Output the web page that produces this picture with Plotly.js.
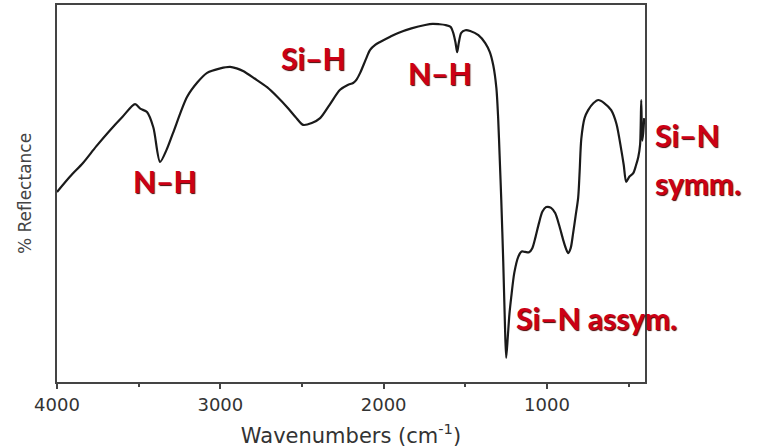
<!DOCTYPE html>
<html>
<head>
<meta charset="utf-8">
<script src="https://cdn.plot.ly/plotly-3.0.1.min.js"></script>
<style>html,body{margin:0;padding:0;background:#fff;}#chart{width:758px;height:448px;}</style>
</head>
<body>
<div id="chart"></div>
<script>
// Wavenumber (cm^-1) and % reflectance (arbitrary units)
const wavenumbers = [4000, 3920, 3841, 3760, 3675, 3600, 3522, 3490, 3449, 3410, 3369, 3330, 3290, 3204, 3140, 3081, 3000, 2940, 2900, 2861, 2790, 2714, 2650, 2591, 2540, 2493, 2440, 2389, 2330, 2267, 2220, 2187, 2165, 2144, 2110, 2083, 2050, 2022, 1960, 1911, 1830, 1746, 1700, 1660, 1623, 1590, 1574, 1560, 1550, 1540, 1525, 1500, 1470, 1420, 1378, 1350, 1329, 1310, 1299, 1290, 1280, 1268, 1258, 1250, 1240, 1230, 1219, 1200, 1176, 1155, 1134, 1110, 1090, 1070, 1050, 1028, 1005, 975, 950, 925, 901, 885, 870, 855, 840, 825, 809, 800, 790, 770, 748, 715, 686, 650, 607, 575, 545, 530, 515, 495, 472, 455, 441, 430, 423, 417, 411, 405];
const reflectance = [50.4, 54.5, 58.1, 62.5, 66.8, 70.3, 73.7, 72.5, 71.6, 67.5, 58.4, 61.5, 66.0, 75.6, 79.5, 82.0, 83.2, 83.6, 83.2, 82.5, 80.5, 78.2, 75.6, 72.9, 70.3, 68.2, 68.7, 70.0, 73.6, 77.5, 78.8, 79.3, 80.3, 82.0, 85.5, 88.1, 89.5, 90.2, 91.6, 92.6, 93.8, 94.7, 95.0, 94.9, 94.7, 94.2, 92.6, 90.0, 87.5, 90.0, 92.6, 93.3, 93.1, 92.0, 89.9, 87.5, 84.0, 78.0, 70.0, 60.0, 48.3, 32.0, 16.0, 6.4, 12.0, 18.0, 22.5, 29.0, 33.2, 34.6, 34.5, 34.4, 35.5, 38.5, 42.0, 45.2, 46.4, 46.2, 44.8, 41.5, 37.7, 35.5, 34.2, 35.5, 39.5, 44.0, 49.0, 56.0, 64.5, 70.0, 72.1, 74.0, 74.8, 74.0, 72.1, 68.5, 61.5, 57.5, 53.1, 54.5, 55.4, 57.5, 59.7, 63.0, 74.8, 64.0, 66.0, 70.0];
const tickValues = [4000, 3000, 2000, 1000];
const tickLabels = ['4000', '3000', '2000', '1000'];
const bandLabels = ['N–H', 'Si–H', 'N–H', 'Si–N assym.', 'Si–N', 'symm.'];

const labelFont = {family: 'Lato, "Open Sans", sans-serif', size: 30, color: '#cc0015', weight: 700, shadow: '1px 1px 1px #4a0000'};

const trace = {
  x: wavenumbers, y: reflectance, type: 'scatter', mode: 'lines',
  line: {color: '#1a1a1a', width: 2.2, shape: 'spline', smoothing: 0.8},
  hoverinfo: 'skip'
};

const pos = [
  {x: 0.184, y: 0.533, xa: 'center'},
  {x: 0.437, y: 0.859, xa: 'center'},
  {x: 0.651, y: 0.820, xa: 'center'},
  {x: 0.778, y: 0.170, xa: 'left'},
  {x: 1.013, y: 0.655, xa: 'left'},
  {x: 1.013, y: 0.528, xa: 'left'}
];
const annotations = bandLabels.map((t, i) => ({
  text: t, xref: 'paper', yref: 'paper', x: pos[i].x, y: pos[i].y,
  xanchor: pos[i].xa, yanchor: 'middle', showarrow: false, font: labelFont
}));

const layout = {
  width: 758, height: 448,
  margin: {l: 57, r: 113, t: 5, b: 66},
  paper_bgcolor: '#fff', plot_bgcolor: '#fff',
  showlegend: false,
  font: {family: '"DejaVu Sans", sans-serif', color: '#333'},
  xaxis: {
    range: [4000, 400], autorange: false,
    tickmode: 'array', tickvals: tickValues, ticktext: tickLabels,
    ticks: 'outside', ticklen: 5, tickwidth: 2, tickcolor: '#444',
    minor: {dtick: 500, tick0: 0, ticks: 'outside', ticklen: 3, tickwidth: 2, tickcolor: '#444', showgrid: false},
    showgrid: false, zeroline: false,
    showline: true, mirror: true, linecolor: '#444', linewidth: 2,
    tickfont: {size: 18, color: '#333'},
    title: {text: 'Wavenumbers (cm<sup>-1</sup>)', font: {size: 21, color: '#333'}, standoff: 15}
  },
  yaxis: {
    range: [0, 100], autorange: false,
    showticklabels: false, ticks: '',
    showgrid: false, zeroline: false,
    showline: true, mirror: true, linecolor: '#444', linewidth: 2,
    title: {text: '% Reflectance', font: {size: 17, color: '#444'}, standoff: 19}
  },
  annotations: annotations
};

Plotly.newPlot('chart', [trace], layout, {staticPlot: true, displayModeBar: false});
</script>
</body>
</html>
